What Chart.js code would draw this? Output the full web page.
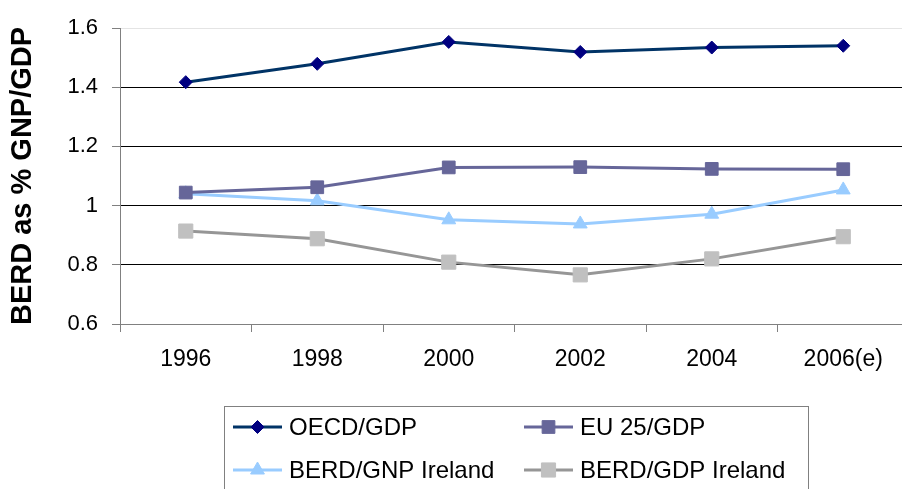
<!DOCTYPE html>
<html>
<head>
<meta charset="utf-8">
<script src="https://cdn.jsdelivr.net/npm/chart.js@4.4.1/dist/chart.umd.min.js"></script>
<style>
  html, body { margin: 0; padding: 0; background: #fff; overflow: hidden; }
  #wrap { position: absolute; left: 0; top: 0; width: 920px; height: 489px; }
</style>
</head>
<body>
<div id="wrap"><canvas id="chart" width="920" height="489"></canvas></div>
<script>
const years = ['1996', '1998', '2000', '2002', '2004', '2006(e)'];
const oecdGdp = [1.417, 1.479, 1.553, 1.519, 1.534, 1.540];
const eu25Gdp = [1.044, 1.062, 1.129, 1.130, 1.124, 1.123];
const berdGnpIreland = [1.040, 1.016, 0.952, 0.938, 0.971, 1.053];
const berdGdpIreland = [0.914, 0.888, 0.809, 0.766, 0.820, 0.895];
const yMin = 0.6;
const yMax = 1.6;
const yStep = 0.2;

const FONT = "'Liberation Sans', Arial, sans-serif";

// legend in a bordered box, two columns
const boxLegend = {
  id: 'boxLegend',
  afterDraw(chart) {
    const ctx = chart.ctx;
    ctx.save();
    ctx.strokeStyle = '#808080';
    ctx.lineWidth = 1;
    ctx.strokeRect(224.5, 406.5, 584, 120);
    chart.data.datasets.forEach((ds, i) => {
      const x0 = i % 2 === 0 ? 233 : 524;
      const y = i < 2 ? 427 : 470;
      ctx.strokeStyle = ds.borderColor;
      ctx.lineWidth = 3;
      ctx.beginPath();
      ctx.moveTo(x0, y);
      ctx.lineTo(x0 + 49, y);
      ctx.stroke();
      ctx.fillStyle = ds.pointBackgroundColor;
      ctx.strokeStyle = ds.pointBackgroundColor;
      ctx.lineWidth = 1;
      Chart.helpers.drawPoint(ctx, {
        pointStyle: ds.pointStyle, radius: ds.pointRadius, rotation: 0, borderWidth: 1
      }, x0 + 24.5, y);
      ctx.fillStyle = '#000';
      ctx.font = '24px ' + FONT;
      ctx.textBaseline = 'middle';
      ctx.textAlign = 'left';
      ctx.fillText(ds.label, x0 + 56, y + 1);
    });
    ctx.restore();
  }
};

function series(label, data, line, marker, style, radius) {
  return {
    label: label,
    data: data,
    borderColor: line,
    backgroundColor: marker,
    borderWidth: 3,
    pointStyle: style,
    pointRadius: radius,
    pointHoverRadius: radius,
    pointBackgroundColor: marker,
    pointBorderColor: marker,
    pointBorderWidth: 1,
    tension: 0,
    fill: false
  };
}

new Chart(document.getElementById('chart'), {
  type: 'line',
  data: {
    labels: years,
    datasets: [
      series('OECD/GDP', oecdGdp, '#003366', '#000080', 'rectRot', 6.5),
      series('EU 25/GDP', eu25Gdp, '#666699', '#666699', 'rect', 9),
      series('BERD/GNP Ireland', berdGnpIreland, '#99CCFF', '#99CCFF', 'triangle', 8),
      series('BERD/GDP Ireland', berdGdpIreland, '#969696', '#C0C0C0', 'rect', 10)
    ]
  },
  options: {
    responsive: false,
    animation: false,
    layout: { padding: { top: 28, right: 4, bottom: 115, left: 0 } },
    plugins: {
      legend: { display: false },
      tooltip: { enabled: false }
    },
    scales: {
      x: {
        offset: true,
        grid: {
          offset: true,
          drawOnChartArea: false,
          drawTicks: true,
          tickLength: 8,
          tickColor: '#808080'
        },
        border: { color: '#808080', width: 1 },
        ticks: {
          color: '#000',
          padding: 14,
          maxRotation: 0,
          font: { family: FONT, size: 23 }
        },
        afterFit: (s) => { s.height = 50; }
      },
      y: {
        min: yMin,
        max: yMax,
        grid: {
          color: (c) => (c.tick && c.tick.value >= yMax - 1e-6 ? '#e4e4e4' : '#000'),
          tickColor: '#808080',
          tickLength: 8,
          lineWidth: 1
        },
        border: { color: '#808080', width: 1 },
        ticks: {
          stepSize: yStep,
          color: '#000',
          padding: 14,
          font: { family: FONT, size: 22 },
          callback: (v) => String(Number(v.toFixed(1)))
        },
        title: {
          display: true,
          text: 'BERD as % GNP/GDP',
          color: '#000',
          font: { family: FONT, size: 29, weight: 'bold' },
          padding: { top: 6, bottom: 0 }
        },
        afterFit: (s) => { s.width = 120; }
      }
    }
  },
  plugins: [boxLegend]
});
</script>
</body>
</html>
